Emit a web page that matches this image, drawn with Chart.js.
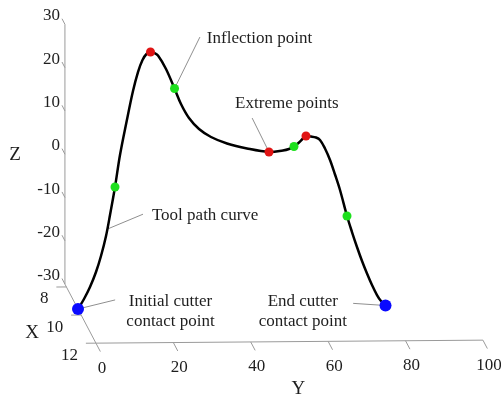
<!DOCTYPE html>
<html>
<head>
<meta charset="utf-8">
<script src="https://cdn.jsdelivr.net/npm/chart.js@4"></script>
<style>
  html, body { margin: 0; padding: 0; background: #fff; }
</style>
</head>
<body>
<canvas id="chart" width="501" height="400"></canvas>
<script>
// tool path, traced in the Y-Z plane of the cutter
const pathY = [0, 1.55, 3.1, 4.65, 5.94, 7.24, 8.27, 9.56, 10.85, 12.53, 14.21, 15.5, 16.67, 17.7,
  18.73, 19.64, 20.67, 22.74, 24.94, 26.61, 28.68, 31.27, 34.37, 38.5, 43.67, 49.35, 52.97,
  54.52, 55.81, 57.11, 58.14, 58.91, 60.21, 61.5, 62.53, 63.82, 65.12, 66.41, 67.7, 69.51,
  70.8, 72.09, 73.39, 74.68, 75.97, 77.26, 78.29, 79.46]
const pathZ = [-30, -27.69, -24.92, -21.45, -17.76, -13.14, -8.29, -1.82, 5.57, 13.19, 20.35, 24.73, 27.51, 28.89,
  29.35, 29.17, 28.55, 25.43, 20.92, 17.34, 14.11, 11.57, 9.72, 8.22, 7.07, 6.26, 6.61,
  6.95, 7.53, 8.45, 9.38, 9.95, 9.84, 9.61, 9.03, 7.07, 4.42, 1.06, -2.52, -8.52,
  -12.22, -15.68, -18.91, -21.8, -24.46, -26.77, -28.15, -29.19]

const extremeY = [18.73, 49.35, 58.91]
const extremeZ = [29.35, 6.26, 9.95]
const inflectionY = [9.56, 24.94, 55.81, 69.51]
const inflectionZ = [-1.82, 20.92, 7.53, -8.52]
const contactY = [0, 79.46]
const contactZ = [-30, -29.19]

const xTicks = [8, 10, 12]
const yTicks = [0, 20, 40, 60, 80, 100]
const zTicks = [-30, -20, -10, 0, 10, 20, 30]

// box of the 3D frame
const xLim = [7.8, 12]
const yLim = [0, 100]
const zLim = [-30, 30]
const planeX = 9.57          // X of the plane the path lies in
const xStep = [7.38, 14.05]  // screen shift per unit of X
const yRoll = -0.03          // Y axis leans up a touch

const font = '17px "Liberation Serif", "Times New Roman", serif'
const titleFont = '19px "Liberation Serif", "Times New Roman", serif'
const ink = '#1e1e1e'
const axisGrey = '#9a9a9a'

const toPoints = (ys, zs) => ys.map((y, i) => ({ x: y, y: zs[i] }))

// callouts: lines of text, where the text sits and where the leader ends (plane coords)
const notes = [
  { text: ['Inflection point'], at: [33.3, 32.4], align: 'left', from: [inflectionY[1], inflectionZ[1]], to: [31.5, 32.8] },
  { text: ['Extreme points'], at: [40.6, 17.5], align: 'left', from: [extremeY[1], extremeZ[1]], to: [45.0, 14.1] },
  { text: ['Tool path curve'], at: [19.1, -8.3], align: 'left', from: [7.7, -11.5], to: [16.8, -8.1] },
  { text: ['Initial cutter', 'contact point'], at: [23.9, -28.3], align: 'center', from: [contactY[0], contactZ[0]], to: [9.6, -27.9] },
  { text: ['End cutter', 'contact point'], at: [58.1, -28.3], align: 'center', from: [contactY[1], contactZ[1]], to: [71.1, -28.7] },
]

function project(chart, X, Y, Z) {
  const d = X - planeX
  return [
    chart.scales.x.getPixelForValue(Y) + d * xStep[0],
    chart.scales.y.getPixelForValue(Z) + d * xStep[1] + Y * yRoll,
  ]
}

function seg(ctx, a, b) {
  ctx.beginPath()
  ctx.moveTo(a[0], a[1])
  ctx.lineTo(b[0], b[1])
  ctx.stroke()
}

const frame3d = {
  id: 'frame3d',
  beforeDatasetsDraw(chart) {
    const ctx = chart.ctx
    ctx.save()
    ctx.strokeStyle = axisGrey
    ctx.lineWidth = 1
    ctx.fillStyle = ink
    ctx.font = font
    ctx.textBaseline = 'middle'

    // Z axis at the back corner
    seg(ctx, project(chart, xLim[0], 0, zLim[0]), project(chart, xLim[0], 0, zLim[1]))
    ctx.textAlign = 'right'
    zTicks.forEach((z) => {
      const p = project(chart, xLim[0], 0, z)
      seg(ctx, p, project(chart, xLim[0] - 0.4, 0, z))
      ctx.fillText(String(z), p[0] - 5, p[1] - 8.5)
    })

    // X axis running toward the viewer
    seg(ctx, project(chart, xLim[0], 0, zLim[0]), project(chart, xLim[1], 0, zLim[0]))
    xTicks.forEach((x) => {
      const p = project(chart, x, 0, zLim[0])
      seg(ctx, p, project(chart, x, -2.6, zLim[0]))
      ctx.fillText(String(x), p[0] - 18, p[1] + 12)
    })

    // Y axis along the front edge
    seg(ctx, project(chart, xLim[1], yLim[0], zLim[0]), project(chart, xLim[1], yLim[1], zLim[0]))
    ctx.textAlign = 'center'
    yTicks.forEach((y) => {
      const p = project(chart, xLim[1], y, zLim[0])
      seg(ctx, p, project(chart, xLim[1] + 0.6, y, zLim[0]))
      ctx.fillText(String(y), p[0] + 6, p[1] + 25)
    })

    // axis titles
    ctx.font = titleFont
    let p = project(chart, xLim[0], 0, 0)
    ctx.fillText('Z', p[0] - 50, p[1] + 1)
    p = project(chart, 10, 0, zLim[0])
    ctx.fillText('X', p[0] - 49, p[1] + 18)
    p = project(chart, xLim[1], 50, zLim[0])
    ctx.fillText('Y', p[0] + 9, p[1] + 47)

    // callout leaders
    const xs = chart.scales.x, ys = chart.scales.y
    ctx.strokeStyle = '#8f8f8f'
    notes.forEach((n) => {
      seg(ctx, [xs.getPixelForValue(n.from[0]), ys.getPixelForValue(n.from[1])],
        [xs.getPixelForValue(n.to[0]), ys.getPixelForValue(n.to[1])])
    })

    // callout text
    ctx.font = font
    notes.forEach((n) => {
      ctx.textAlign = n.align
      const x = xs.getPixelForValue(n.at[0])
      const y = ys.getPixelForValue(n.at[1])
      n.text.forEach((line, i) => ctx.fillText(line, x, y + i * 20))
    })
    ctx.restore()
  },
}

new Chart(document.getElementById('chart'), {
  type: 'scatter',
  data: {
    datasets: [
      {
        label: 'Tool path curve',
        data: toPoints(pathY, pathZ),
        showLine: true,
        borderColor: '#000',
        borderWidth: 2.5,
        pointRadius: 0,
        tension: 0.35,
        order: 3,
      },
      {
        label: 'Extreme points',
        data: toPoints(extremeY, extremeZ),
        backgroundColor: '#e01414',
        borderWidth: 0,
        pointRadius: 4.5,
        order: 1,
      },
      {
        label: 'Inflection points',
        data: toPoints(inflectionY, inflectionZ),
        backgroundColor: '#1ee01e',
        borderWidth: 0,
        pointRadius: 4.5,
        order: 1,
      },
      {
        label: 'Cutter contact points',
        data: toPoints(contactY, contactZ),
        backgroundColor: '#0a0aff',
        borderWidth: 0,
        pointRadius: 6,
        order: 0,
      },
    ],
  },
  options: {
    responsive: false,
    animation: false,
    layout: { padding: { left: 8.34, right: 16.65, top: 10.23, bottom: 30.38 } },
    plugins: {
      legend: { display: false },
      tooltip: { enabled: false },
    },
    scales: {
      x: { type: 'linear', min: -18, max: 105, display: false },
      y: { type: 'linear', min: -44, max: 39, display: false },
    },
  },
  plugins: [frame3d],
})
</script>
</body>
</html>
